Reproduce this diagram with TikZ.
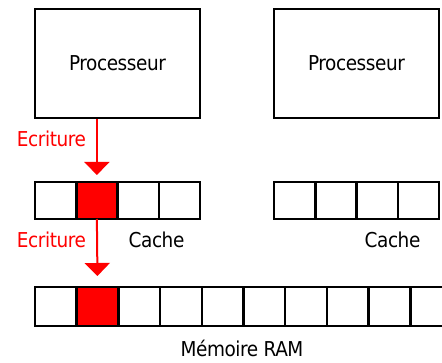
\documentclass[tikz,border=0pt]{standalone}
\usepackage{fontspec}
\setmainfont[LetterSpace=-2]{DejaVu Sans Condensed}
\usetikzlibrary{arrows.meta}
\begin{document}
\begin{tikzpicture}[x=1pt,y=-1pt,line width=2.5pt,
  font=\fontsize{20.5}{24}\selectfont,
  cpu/.style={draw,minimum width=165pt,minimum height=109pt,inner sep=0pt},
  cell/.style={draw,minimum width=41.25pt,minimum height=37pt,inner sep=0pt,outer sep=0pt},
  ramcell/.style={cell,minimum width=41.7pt,minimum height=39pt},
  write/.style={red,line width=2pt,-{Triangle[width=25pt,length=13pt]}}]
\useasboundingbox (0,0) rectangle (442,363);
\node[cpu] (cpuA) at (117.5,63.5) {Processeur};
\node[cpu] (cpuB) at (356.5,63.5) {Processeur};
% the two caches, second line of the first one is written
\foreach \i in {1,...,4} {
  \ifnum\i=2 \def\cellcol{red}\else\def\cellcol{white}\fi
  \node[cell,fill=\cellcol] (ca\i) at ({35+41.25*(\i-0.5)},200.5) {};
  \node[cell] (cb\i) at ({274+41.25*(\i-0.5)},200.5) {};
}
% main memory, runs off the right edge
\foreach \i in {1,...,10} {
  \ifnum\i=2 \def\cellcol{red}\else\def\cellcol{white}\fi
  \node[ramcell,fill=\cellcol] (ram\i) at ({35+41.7*(\i-0.5)},306.5) {};
}
\node[anchor=base] (cacheA) at (156.5,248) {Cache};
\node[anchor=base] (cacheB) at (392.5,248) {Cache};
\node[anchor=base] (ram) at (242,357) {Mémoire RAM};
% write through
\node[red,anchor=base] (wr1) at (51.5,147) {Ecriture};
\node[red,anchor=base] (wr2) at (51.5,248) {Ecriture};
\draw[write,shorten >=7pt] (cpuA.south -| ca2) -- (ca2.north);
\draw[write,shorten >=11pt] (ca2.south) -- (ram2.north);
\end{tikzpicture}
\end{document}
